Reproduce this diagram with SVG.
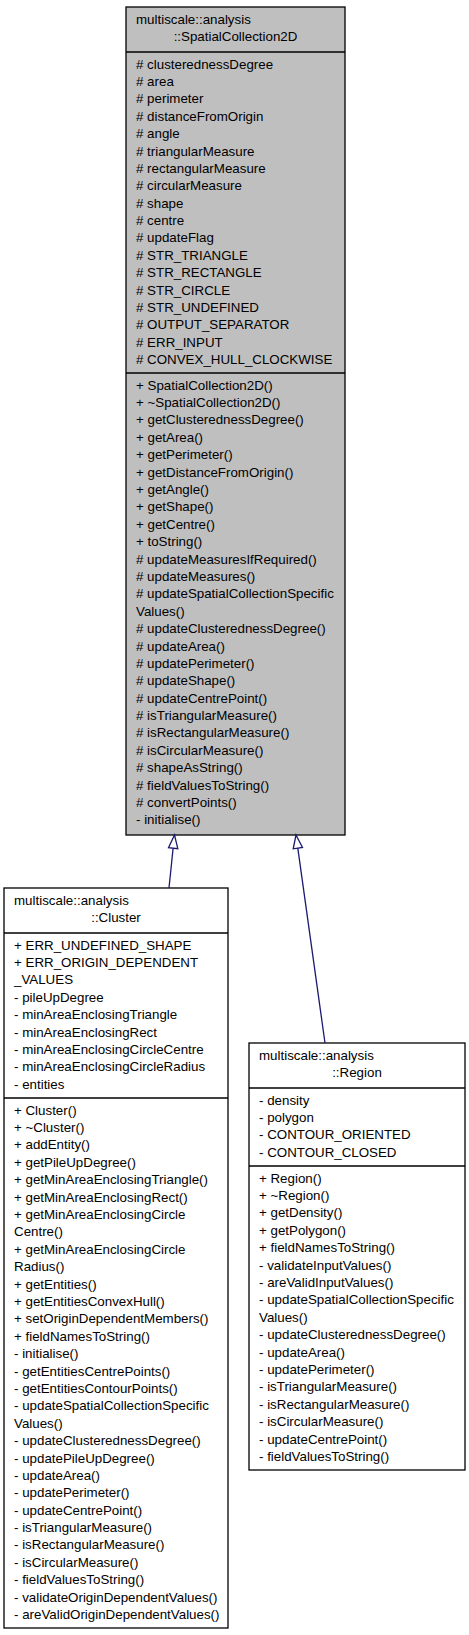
<svg xmlns="http://www.w3.org/2000/svg" width="469" height="1635" viewBox="0 0 469 1635">
<style>
.box{stroke:#000;stroke-width:1.3}
.base{fill:#bfbfbf}
.child{fill:#fff}
.sep{stroke:#000;stroke-width:1.3}
text{font-family:"Liberation Sans",Arial,sans-serif;font-size:13.33px;fill:#000}
.mid{text-anchor:middle}
.edge{stroke:#191970;stroke-width:1.3;fill:none}
</style>
<rect width="469" height="1635" fill="#fff"/>
<g id="node-SpatialCollection2D">
<rect class="box base" x="126" y="7" width="219" height="828"/>
<line class="sep" x1="126" y1="52" x2="345" y2="52"/>
<line class="sep" x1="126" y1="373" x2="345" y2="373"/>
<text x="136" y="23.5">multiscale::analysis</text>
<text class="mid" x="235.5" y="40.9">::SpatialCollection2D</text>
<text x="136" y="68.5"><tspan x="136" dy="0"># clusterednessDegree</tspan><tspan x="136" dy="17.4"># area</tspan><tspan x="136" dy="17.4"># perimeter</tspan><tspan x="136" dy="17.4"># distanceFromOrigin</tspan><tspan x="136" dy="17.4"># angle</tspan><tspan x="136" dy="17.4"># triangularMeasure</tspan><tspan x="136" dy="17.4"># rectangularMeasure</tspan><tspan x="136" dy="17.4"># circularMeasure</tspan><tspan x="136" dy="17.4"># shape</tspan><tspan x="136" dy="17.4"># centre</tspan><tspan x="136" dy="17.4"># updateFlag</tspan><tspan x="136" dy="17.4"># STR_TRIANGLE</tspan><tspan x="136" dy="17.4"># STR_RECTANGLE</tspan><tspan x="136" dy="17.4"># STR_CIRCLE</tspan><tspan x="136" dy="17.4"># STR_UNDEFINED</tspan><tspan x="136" dy="17.4"># OUTPUT_SEPARATOR</tspan><tspan x="136" dy="17.4"># ERR_INPUT</tspan><tspan x="136" dy="17.4"># CONVEX_HULL_CLOCKWISE</tspan></text>
<text x="136" y="389.5"><tspan x="136" dy="0">+ SpatialCollection2D()</tspan><tspan x="136" dy="17.4">+ ~SpatialCollection2D()</tspan><tspan x="136" dy="17.4">+ getClusterednessDegree()</tspan><tspan x="136" dy="17.4">+ getArea()</tspan><tspan x="136" dy="17.4">+ getPerimeter()</tspan><tspan x="136" dy="17.4">+ getDistanceFromOrigin()</tspan><tspan x="136" dy="17.4">+ getAngle()</tspan><tspan x="136" dy="17.4">+ getShape()</tspan><tspan x="136" dy="17.4">+ getCentre()</tspan><tspan x="136" dy="17.4">+ toString()</tspan><tspan x="136" dy="17.4"># updateMeasuresIfRequired()</tspan><tspan x="136" dy="17.4"># updateMeasures()</tspan><tspan x="136" dy="17.4"># updateSpatialCollectionSpecific</tspan><tspan x="136" dy="17.4">Values()</tspan><tspan x="136" dy="17.4"># updateClusterednessDegree()</tspan><tspan x="136" dy="17.4"># updateArea()</tspan><tspan x="136" dy="17.4"># updatePerimeter()</tspan><tspan x="136" dy="17.4"># updateShape()</tspan><tspan x="136" dy="17.4"># updateCentrePoint()</tspan><tspan x="136" dy="17.4"># isTriangularMeasure()</tspan><tspan x="136" dy="17.4"># isRectangularMeasure()</tspan><tspan x="136" dy="17.4"># isCircularMeasure()</tspan><tspan x="136" dy="17.4"># shapeAsString()</tspan><tspan x="136" dy="17.4"># fieldValuesToString()</tspan><tspan x="136" dy="17.4"># convertPoints()</tspan><tspan x="136" dy="17.4">- initialise()</tspan></text>
</g>
<g id="node-Cluster">
<rect class="box child" x="4" y="888" width="224" height="740"/>
<line class="sep" x1="4" y1="933" x2="228" y2="933"/>
<line class="sep" x1="4" y1="1098" x2="228" y2="1098"/>
<text x="14" y="904.5">multiscale::analysis</text>
<text class="mid" x="116" y="921.9">::Cluster</text>
<text x="14" y="949.5"><tspan x="14" dy="0">+ ERR_UNDEFINED_SHAPE</tspan><tspan x="14" dy="17.4">+ ERR_ORIGIN_DEPENDENT</tspan><tspan x="14" dy="17.4">_VALUES</tspan><tspan x="14" dy="17.4">- pileUpDegree</tspan><tspan x="14" dy="17.4">- minAreaEnclosingTriangle</tspan><tspan x="14" dy="17.4">- minAreaEnclosingRect</tspan><tspan x="14" dy="17.4">- minAreaEnclosingCircleCentre</tspan><tspan x="14" dy="17.4">- minAreaEnclosingCircleRadius</tspan><tspan x="14" dy="17.4">- entities</tspan></text>
<text x="14" y="1114.5"><tspan x="14" dy="0">+ Cluster()</tspan><tspan x="14" dy="17.4">+ ~Cluster()</tspan><tspan x="14" dy="17.4">+ addEntity()</tspan><tspan x="14" dy="17.4">+ getPileUpDegree()</tspan><tspan x="14" dy="17.4">+ getMinAreaEnclosingTriangle()</tspan><tspan x="14" dy="17.4">+ getMinAreaEnclosingRect()</tspan><tspan x="14" dy="17.4">+ getMinAreaEnclosingCircle</tspan><tspan x="14" dy="17.4">Centre()</tspan><tspan x="14" dy="17.4">+ getMinAreaEnclosingCircle</tspan><tspan x="14" dy="17.4">Radius()</tspan><tspan x="14" dy="17.4">+ getEntities()</tspan><tspan x="14" dy="17.4">+ getEntitiesConvexHull()</tspan><tspan x="14" dy="17.4">+ setOriginDependentMembers()</tspan><tspan x="14" dy="17.4">+ fieldNamesToString()</tspan><tspan x="14" dy="17.4">- initialise()</tspan><tspan x="14" dy="17.4">- getEntitiesCentrePoints()</tspan><tspan x="14" dy="17.4">- getEntitiesContourPoints()</tspan><tspan x="14" dy="17.4">- updateSpatialCollectionSpecific</tspan><tspan x="14" dy="17.4">Values()</tspan><tspan x="14" dy="17.4">- updateClusterednessDegree()</tspan><tspan x="14" dy="17.4">- updatePileUpDegree()</tspan><tspan x="14" dy="17.4">- updateArea()</tspan><tspan x="14" dy="17.4">- updatePerimeter()</tspan><tspan x="14" dy="17.4">- updateCentrePoint()</tspan><tspan x="14" dy="17.4">- isTriangularMeasure()</tspan><tspan x="14" dy="17.4">- isRectangularMeasure()</tspan><tspan x="14" dy="17.4">- isCircularMeasure()</tspan><tspan x="14" dy="17.4">- fieldValuesToString()</tspan><tspan x="14" dy="17.4">- validateOriginDependentValues()</tspan><tspan x="14" dy="17.4">- areValidOriginDependentValues()</tspan></text>
</g>
<g id="node-Region">
<rect class="box child" x="249" y="1043" width="216" height="427"/>
<line class="sep" x1="249" y1="1088" x2="465" y2="1088"/>
<line class="sep" x1="249" y1="1166" x2="465" y2="1166"/>
<text x="259" y="1059.5">multiscale::analysis</text>
<text class="mid" x="357" y="1076.9">::Region</text>
<text x="259" y="1104.5"><tspan x="259" dy="0">- density</tspan><tspan x="259" dy="17.4">- polygon</tspan><tspan x="259" dy="17.4">- CONTOUR_ORIENTED</tspan><tspan x="259" dy="17.4">- CONTOUR_CLOSED</tspan></text>
<text x="259" y="1182.5"><tspan x="259" dy="0">+ Region()</tspan><tspan x="259" dy="17.4">+ ~Region()</tspan><tspan x="259" dy="17.4">+ getDensity()</tspan><tspan x="259" dy="17.4">+ getPolygon()</tspan><tspan x="259" dy="17.4">+ fieldNamesToString()</tspan><tspan x="259" dy="17.4">- validateInputValues()</tspan><tspan x="259" dy="17.4">- areValidInputValues()</tspan><tspan x="259" dy="17.4">- updateSpatialCollectionSpecific</tspan><tspan x="259" dy="17.4">Values()</tspan><tspan x="259" dy="17.4">- updateClusterednessDegree()</tspan><tspan x="259" dy="17.4">- updateArea()</tspan><tspan x="259" dy="17.4">- updatePerimeter()</tspan><tspan x="259" dy="17.4">- isTriangularMeasure()</tspan><tspan x="259" dy="17.4">- isRectangularMeasure()</tspan><tspan x="259" dy="17.4">- isCircularMeasure()</tspan><tspan x="259" dy="17.4">- updateCentrePoint()</tspan><tspan x="259" dy="17.4">- fieldValuesToString()</tspan></text>
</g>
<g id="connectors">
<line class="edge" x1="169" y1="888" x2="173.1" y2="848.2"/>
<polygon class="edge" points="174.5,835 177.8,848.7 168.5,847.7"/>
<line class="edge" x1="325" y1="1043" x2="297.8" y2="848.2"/>
<polygon class="edge" points="296,835 302.5,847.5 293.2,848.8"/>
</g>
</svg>
